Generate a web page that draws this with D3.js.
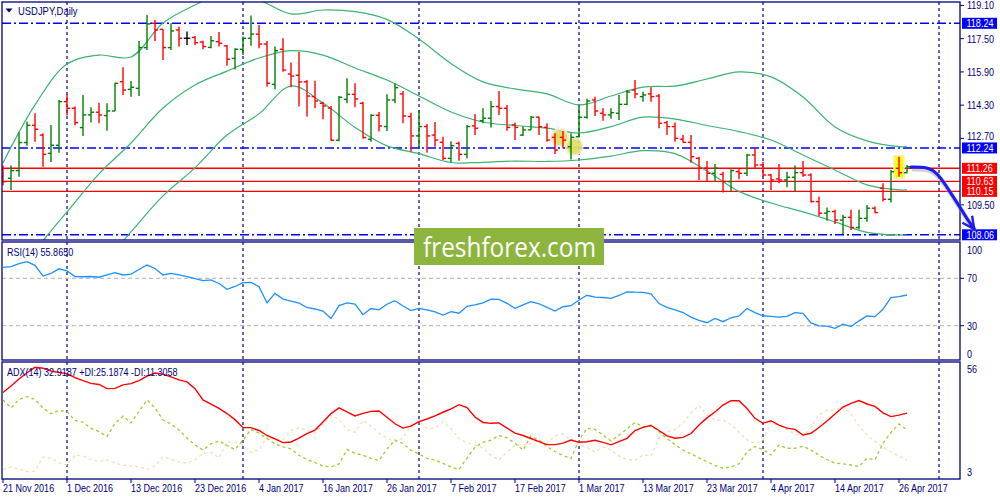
<!DOCTYPE html>
<html><head><meta charset="utf-8">
<script src="https://cdn.jsdelivr.net/npm/d3@7"></script>
<style>
body{margin:0;background:#fff;}
svg{display:block;}
text{font-family:"Liberation Sans",Arial,sans-serif;font-size:11px;}
</style></head><body>
<svg id="c" width="1000" height="500"></svg>
<script>
// ---------- DATA ----------
const tickLabels = ["21 Nov 2016","1 Dec 2016","13 Dec 2016","23 Dec 2016","4 Jan 2017","16 Jan 2017","26 Jan 2017","7 Feb 2017","17 Feb 2017","1 Mar 2017","13 Mar 2017","23 Mar 2017","4 Apr 2017","14 Apr 2017","26 Apr 2017"];
const tickIdx = [0,8,16,24,32,40,48,56,64,72,80,88,96,104,112];
const monthGridIdx = [8,30,52,72,95,117];

const open = [110.86,110.78,111.15,112.50,113.33,112.86,111.98,112.37,114.47,114.15,
113.22,113.83,113.96,113.80,114.02,115.43,115.06,115.11,117.07,118.24,
117.95,117.07,117.92,117.52,117.56,117.34,117.08,117.36,117.15,116.55,
116.99,117.52,117.72,117.24,115.30,116.99,115.80,115.74,115.42,114.71,
114.39,114.16,112.61,114.58,114.82,114.39,112.66,113.81,113.27,114.55,
114.84,113.75,112.82,113.27,112.86,112.51,111.74,112.46,111.93,113.30,
113.55,113.67,114.23,114.15,113.35,112.86,113.11,113.72,113.23,112.75,
112.75,112.30,112.78,113.72,114.55,113.91,113.83,113.91,114.34,115.03,
114.71,114.84,114.74,113.46,113.27,112.66,112.51,111.74,111.26,111.02,
110.97,110.62,111.10,111.02,111.90,111.42,110.94,110.75,110.70,110.83,
111.05,110.94,109.66,109.10,109.18,108.77,108.90,108.41,108.85,109.34,
110.30,109.77,111.26,111.05];
const high = [111.39,111.39,112.99,113.51,113.91,112.95,113.35,114.55,114.82,114.23,
114.79,114.20,114.42,114.39,115.38,116.12,115.46,117.39,118.64,118.40,
117.95,118.24,118.08,117.84,117.63,117.40,117.63,117.82,117.20,117.04,
117.60,118.61,118.16,117.39,117.12,117.52,116.35,116.87,115.51,115.48,
114.47,114.26,114.74,115.59,115.35,114.47,113.86,113.97,114.82,115.35,
114.98,113.94,114.07,113.39,113.49,112.78,112.56,112.54,113.35,113.88,
114.15,114.50,114.98,114.31,113.46,113.27,113.78,113.75,113.43,112.95,
113.06,112.95,114.23,114.61,114.71,114.15,114.15,114.79,115.03,115.51,
114.95,115.16,114.84,113.54,113.46,112.86,112.86,111.82,111.61,111.47,
111.10,111.21,111.26,111.95,112.22,111.58,110.99,111.47,111.10,111.39,
111.61,111.02,109.90,109.38,109.26,109.02,109.26,109.26,109.50,109.42,
110.54,111.18,111.82,111.42];
const low = [110.44,110.22,110.86,112.35,112.54,111.34,111.57,112.01,113.80,113.33,
112.82,113.46,113.43,113.07,114.02,114.79,114.71,114.74,116.95,117.39,
116.47,116.95,117.12,117.20,117.20,116.99,117.04,117.12,116.20,116.02,
116.71,117.16,117.04,115.19,115.06,115.91,115.16,114.23,113.75,114.15,
113.62,112.59,112.56,114.39,114.20,112.70,112.54,113.03,113.06,114.39,
113.43,112.06,112.22,112.01,112.30,111.66,111.55,111.63,111.74,112.86,
113.43,113.23,113.83,113.07,112.62,112.82,113.11,112.86,112.54,111.95,
112.22,111.69,112.75,113.65,113.78,113.55,113.65,113.59,114.29,114.63,
114.47,114.47,113.19,112.86,112.54,112.50,111.53,110.70,110.62,110.62,
110.09,110.14,110.73,110.89,111.26,110.83,110.22,110.54,110.35,110.14,
110.86,109.62,108.97,108.74,108.58,108.10,108.29,108.33,108.69,109.10,
109.66,109.62,110.86,111.02];
const close = [110.62,111.15,112.50,113.33,113.14,111.93,112.37,114.47,114.15,113.46,
113.83,113.96,113.83,114.02,115.35,115.03,115.16,117.07,118.21,117.92,
117.07,117.87,117.52,117.52,117.31,117.12,117.40,117.28,116.51,116.99,
117.52,117.72,117.24,115.35,116.92,115.99,115.70,115.42,114.74,114.50,
114.26,112.61,114.68,114.82,114.60,112.74,113.81,113.30,114.55,115.14,
113.78,112.82,113.27,112.82,112.62,111.74,112.35,111.93,113.27,113.19,
113.67,114.23,114.15,113.23,113.23,113.11,113.72,113.27,112.62,112.14,
112.62,112.75,113.72,114.50,114.02,113.83,113.94,114.34,114.93,114.84,
114.79,114.71,113.43,113.27,112.70,112.51,111.82,111.26,111.02,111.26,
110.62,111.15,111.02,111.90,111.42,110.94,110.70,110.70,110.83,111.05,
110.94,109.66,109.10,109.18,108.77,108.90,108.41,108.85,109.34,109.13,
109.77,111.10,111.05,111.34];

// Bollinger bands read every 4 bars
const bandIdx = [0,4,8,12,16,20,24,28,32,36,40,44,48,52,56,60,64,68,72,76,80,84,88,92,96,100,104,108,112,113];
const bbUpper = [111.52,114.31,116.28,116.71,116.62,118.25,119.12,119.75,119.36,118.69,118.88,118.80,118.43,117.48,116.30,115.42,115.08,114.84,114.31,114.74,115.17,115.22,115.56,115.90,115.66,114.69,113.25,112.58,112.30,112.30];
const bbMiddle = [null,107.33,109.16,110.99,112.48,114.16,115.27,115.94,116.57,116.92,116.71,116.09,115.51,114.74,113.97,113.49,113.32,113.19,112.96,113.27,113.72,113.63,113.32,113.03,112.62,111.90,111.18,110.46,110.22,110.22];
const bbLower = [null,null,null,106.42,108.20,109.93,111.28,112.86,113.88,115.22,114.40,113.23,112.34,111.97,111.54,111.55,111.61,111.59,111.66,111.85,112.11,111.97,111.13,110.15,109.59,109.16,108.68,108.18,108.05,108.05];

const rsi = [79.3,79.8,82.3,84.0,80.9,71.9,74.1,78.0,76.2,71.5,
71.3,71.5,70.9,72.8,74.7,72.8,73.6,77.4,81.2,78.3,
72.8,74.2,72.8,71.4,69.8,68.0,68.6,65.6,60.7,63.1,
66.3,66.6,62.9,49.4,57.3,52.5,50.8,49.0,45.4,44.1,
42.4,36.1,47.0,49.2,48.3,39.3,44.5,43.4,48.1,51.1,
46.6,42.7,44.6,43.3,41.6,39.0,41.8,40.5,46.4,47.5,
49.2,52.4,52.2,48.9,44.7,47.5,50.3,48.5,45.4,42.4,
46.0,46.9,51.7,55.7,54.1,53.8,53.1,55.5,58.6,58.3,
58.2,56.9,48.7,45.5,43.3,41.1,37.3,34.5,32.5,36.2,
33.4,36.7,38.2,44.5,41.1,38.4,37.9,37.3,37.8,41.1,
40.5,32.3,29.9,29.7,27.8,31.3,29.3,34.1,38.2,37.6,
43.9,53.8,54.5,55.9];

const adx = [42.4,45.4,48.6,51.5,54.0,53.6,52.3,51.6,51.1,49.3,
47.9,46.6,46.1,44.2,44.3,45.9,46.5,47.9,50.0,51.4,
50.9,49.6,48.2,47.3,44.2,39.0,37.0,35.1,32.7,29.9,
26.2,26.2,24.9,22.6,21.0,19.3,19.6,21.4,23.5,25.1,
28.8,32.7,35.3,33.5,31.6,32.8,33.7,33.9,31.0,28.0,
26.0,26.9,29.0,30.2,31.6,33.3,34.9,36.8,35.5,31.1,
28.6,28.2,28.4,26.0,23.7,22.6,21.2,19.8,18.4,18.4,
19.1,20.5,19.5,19.7,20.4,19.4,18.3,19.8,21.3,24.9,
26.3,27.2,24.9,22.4,21.3,21.7,23.5,27.4,30.7,33.4,
36.6,38.6,38.6,35.0,30.5,28.2,29.4,27.4,26.0,25.4,
22.8,23.6,26.3,29.3,32.5,35.7,37.4,38.7,37.1,36.0,
33.0,31.3,32.0,32.9];
const plusDI = [39.0,35.3,39.2,40.5,39.2,35.3,32.6,34.1,33.6,29.5,
28.7,25.9,24.4,22.1,28.2,31.5,28.4,33.7,39.0,35.3,
29.7,27.9,25.1,21.4,18.2,15.9,18.7,20.1,18.0,16.1,
20.5,25.4,23.7,21.2,18.7,17.4,16.4,13.4,11.5,10.1,
8.5,8.1,9.5,16.1,14.4,13.5,12.0,11.1,16.4,20.5,
18.9,15.8,14.1,12.0,11.3,9.7,8.1,6.9,12.2,17.3,
19.4,20.5,22.6,21.5,19.0,15.9,22.4,20.5,17.4,15.2,
13.4,12.0,20.5,25.9,25.4,22.8,20.1,22.8,25.6,28.6,
26.6,27.3,24.3,21.2,18.4,15.9,14.1,12.3,10.5,8.8,
7.5,8.1,9.5,15.0,17.5,16.1,13.6,18.2,16.7,16.7,
17.6,15.9,13.5,11.4,9.9,9.5,9.0,8.3,12.1,11.4,
19.0,24.0,27.9,25.2];
const minusDI = [7.0,8.1,7.1,5.9,6.2,12.7,12.1,10.0,9.0,13.6,
13.1,11.5,10.6,11.3,9.9,8.8,8.5,8.2,7.0,8.5,
12.7,11.6,10.4,9.9,11.3,14.4,14.8,12.2,19.7,19.4,
18.0,14.8,15.9,22.1,21.0,20.7,24.9,26.2,24.9,23.7,
28.1,31.9,30.0,25.4,24.1,29.5,27.0,23.7,21.4,19.7,
21.4,27.7,28.9,25.8,26.0,28.8,25.8,21.2,19.2,18.2,
16.8,13.6,11.3,15.0,18.2,18.2,18.9,20.4,18.9,22.4,
23.3,20.7,18.2,17.1,15.0,17.4,15.8,13.1,11.6,11.1,
13.6,13.1,21.2,24.2,25.3,28.3,33.0,36.4,32.0,29.7,
29.7,27.7,24.2,20.5,18.9,20.5,28.8,27.4,25.4,23.3,
22.0,26.6,32.0,34.3,34.3,36.0,32.5,27.0,22.8,19.8,
17.1,15.0,13.1,11.3];

const priceTicks = [119.10,117.50,115.90,114.30,112.70,109.50];
const blueLevels = [118.24,112.24,108.06];
const redLevels = [111.26,110.63,110.15];
const rsiLevels = [70,30];
const rsiTickLabels = ["100","70","30","0"];
const rsiTickVals = [100,70,30,0];
const adxTickLabels = ["56","3"];

// annotations (bar index, price)
const circleIdx = [69.6,71.4], circlePrice = [112.74,112.31];
const markIdx = 112, markHigh = 111.87, markLow = 110.78;
const arrowIdx = [113.5,115.6,116.8,118.4,119.6,120.6,121.4];
const arrowPrice = [111.32,111.32,111.04,110.12,109.40,108.77,108.34];

// ---------- LAYOUT ----------
const L=2, R=960;
const MAIN=[2,240], RSI=[242,360], ADX=[362,479];
const NAVY="#000080";
const NARROW=0.82;
const x = d3.scaleLinear().domain([0,113]).range([3,907]);
const yP = d3.scaleLinear().domain([108.06,118.24]).range([234.8,23.3]);
const yR = d3.scaleLinear().domain([0,100]).range([361.25,242.75]);
const yA = d3.scaleLinear().domain([3,56]).range([478,363]);

const svg = d3.select("#c");
svg.append("rect").attr("width",1000).attr("height",500).attr("fill","#fff");
const defs = svg.append("defs");
function mkClip(id,p){defs.append("clipPath").attr("id",id).append("rect")
  .attr("x",L).attr("y",p[0]).attr("width",R-L).attr("height",p[1]-p[0]);}
mkClip("cm",MAIN); mkClip("cr",RSI); mkClip("ca",ADX);

// narrow text helper (imitates a condensed UI font)
function txt(parent,xx,yy,s,fill,size){
  const t = parent.append("text").attr("x",xx).attr("y",yy).attr("fill",fill||NAVY).text(s);
  if(size) t.style("font-size",size);
  const w = t.node().getComputedTextLength();
  if(w>0) t.attr("textLength",w*NARROW).attr("lengthAdjust","spacingAndGlyphs");
  return t;
}

// vertical month grid
svg.append("g").selectAll("line").data(monthGridIdx).join("line")
  .attr("x1",d=>x(d)).attr("x2",d=>x(d)).attr("y1",MAIN[0]).attr("y2",ADX[1])
  .attr("stroke",NAVY).attr("stroke-width",1.2).attr("stroke-dasharray","3,3");

// ---------- MAIN PANEL ----------
const gm = svg.append("g").attr("clip-path","url(#cm)");
gm.selectAll("line.b").data(blueLevels).join("line")
  .attr("x1",L).attr("x2",R).attr("y1",d=>yP(d)).attr("y2",d=>yP(d))
  .attr("stroke","#0000ff").attr("stroke-width",1.4).attr("stroke-dasharray","9,3,2,3");
gm.selectAll("line.r").data(redLevels).join("line")
  .attr("x1",L).attr("x2",R).attr("y1",d=>yP(d)).attr("y2",d=>yP(d))
  .attr("stroke","#ff0000").attr("stroke-width",1.4);

const bandLine = d3.line().defined(d=>d[1]!=null).x(d=>x(d[0])).y(d=>yP(d[1])).curve(d3.curveCatmullRom);
[bbUpper,bbMiddle,bbLower].forEach(arr=>{
  gm.append("path").attr("d",bandLine(bandIdx.map((k,j)=>[k,arr[j]])))
    .attr("fill","none").attr("stroke","#3cb371").attr("stroke-width",1.2);
});

// yellow highlights
gm.selectAll("circle.hl").data(circleIdx).join("circle")
  .attr("cx",d=>x(d)).attr("cy",(d,j)=>yP(circlePrice[j])).attr("r",8.5)
  .attr("fill","#e2dd5e").attr("stroke","#eeeecc").attr("stroke-width",2).attr("opacity",0.9);
gm.append("rect").attr("x",x(markIdx)-5).attr("y",yP(markHigh))
  .attr("width",10).attr("height",yP(markLow)-yP(markHigh))
  .attr("fill","#ffff00").attr("stroke","#f4f4b0").attr("stroke-width",1.5);

// OHLC bars
const bars = gm.append("g");
d3.range(open.length).forEach(i=>{
  const c = close[i]>open[i] ? "#008000" : (close[i]<open[i] ? "#ff0000" : "#000000");
  const g = bars.append("g").attr("stroke",c).attr("stroke-width",1.4);
  g.append("line").attr("x1",x(i)).attr("x2",x(i)).attr("y1",yP(high[i])).attr("y2",yP(low[i]));
  g.append("line").attr("x1",x(i)-3.2).attr("x2",x(i)).attr("y1",yP(open[i])).attr("y2",yP(open[i]));
  g.append("line").attr("x1",x(i)).attr("x2",x(i)+3.2).attr("y1",yP(close[i])).attr("y2",yP(close[i]));
});

// ---------- RSI PANEL ----------
const gr = svg.append("g").attr("clip-path","url(#cr)");
gr.selectAll("line").data(rsiLevels).join("line")
  .attr("x1",L).attr("x2",R).attr("y1",d=>yR(d)).attr("y2",d=>yR(d))
  .attr("stroke","#c0c0c0").attr("stroke-width",1.2).attr("stroke-dasharray","4,3");
gr.append("path").attr("d",d3.line().x((d,i)=>x(i)).y(d=>yR(d))(rsi))
  .attr("fill","none").attr("stroke","#1e90ff").attr("stroke-width",1.3);

// ---------- ADX PANEL ----------
const ga = svg.append("g").attr("clip-path","url(#ca)");
const aLine = d3.line().x((d,i)=>x(i)).y(d=>yA(d));
ga.append("path").attr("d",aLine(minusDI)).attr("fill","none")
  .attr("stroke","#f5deb3").attr("stroke-width",1.3).attr("stroke-dasharray","3,3");
ga.append("path").attr("d",aLine(plusDI)).attr("fill","none")
  .attr("stroke","#9acd32").attr("stroke-width",1.3).attr("stroke-dasharray","3,3");
ga.append("path").attr("d",aLine(adx)).attr("fill","none")
  .attr("stroke","#ff0000").attr("stroke-width",1.4);

// ---------- FRAMES ----------
[MAIN,RSI,ADX].forEach(p=>{
  svg.append("rect").attr("x",L).attr("y",p[0]).attr("width",R-L).attr("height",p[1]-p[0])
    .attr("fill","none").attr("stroke",NAVY).attr("stroke-width",1.3);
});

// panel titles
svg.append("path").attr("d","M5.5,8.5 L12.5,8.5 L9,12.5 Z").attr("fill",NAVY);
txt(svg,18,15,"USDJPY,Daily",NAVY,"11.5px");
txt(svg,7,256,"RSI(14) 55.8650");
txt(svg,7,376,"ADX(14) 32.9187 +DI:25.1874 -DI:11.3058");

// ---------- RIGHT AXIS ----------
const ax = svg.append("g");
priceTicks.forEach(v=>{
  ax.append("line").attr("x1",R).attr("x2",R+4).attr("y1",yP(v)).attr("y2",yP(v)).attr("stroke",NAVY);
  const dy = (v===112.70) ? 1.5 : 4;   // sits just above the 112.24 box
  txt(ax,967,yP(v)+dy,v.toFixed(2));
});
const boxes = blueLevels.map(v=>({v,c:"#0000ff"})).concat(redLevels.map(v=>({v,c:"#ff0000"})));
boxes.forEach(b=>{
  ax.append("rect").attr("x",962).attr("y",yP(b.v)-5.5).attr("width",35).attr("height",11).attr("fill",b.c);
  txt(ax,966.5,yP(b.v)+4,b.v.toFixed(2),"#fff");
});
rsiTickVals.forEach((v,j)=>{
  const yy = v===100 ? yR(v)+7 : (v===0 ? yR(v)-7 : yR(v));
  if(v===70||v===30) ax.append("line").attr("x1",R).attr("x2",R+4).attr("y1",yR(v)).attr("y2",yR(v)).attr("stroke",NAVY);
  txt(ax,967,yy+4,rsiTickLabels[j]);
});
txt(ax,967,yA(56)+10,adxTickLabels[0]);
txt(ax,967,yA(3)-2,adxTickLabels[1]);

// ---------- DATE AXIS ----------
tickIdx.forEach((k,j)=>{
  svg.append("line").attr("x1",x(k)).attr("x2",x(k)).attr("y1",ADX[1]).attr("y2",ADX[1]+4).attr("stroke",NAVY);
  txt(svg,x(k),492,tickLabels[j]);
});

// ---------- ARROW ----------
defs.append("marker").attr("id","ah").attr("viewBox","0 0 10 10").attr("refX",9).attr("refY",5)
  .attr("markerUnits","userSpaceOnUse").attr("markerWidth",15).attr("markerHeight",15).attr("orient","auto")
  .append("path").attr("d","M1,1 L9,5 L1,9").attr("fill","none").attr("stroke","#1c1cf0").attr("stroke-width",1.6);
const arrowPts = arrowIdx.map((k,j)=>[x(k),yP(arrowPrice[j])]);
const aPath = d3.line().curve(d3.curveBasis)(arrowPts);
svg.append("path").attr("d",aPath).attr("transform","translate(1,2)").attr("fill","none")
  .attr("stroke","#9a9ab8").attr("stroke-width",5).attr("opacity",0.45);
svg.append("path").attr("d",aPath).attr("fill","none").attr("stroke","#1c1cf0")
  .attr("stroke-width",3).attr("stroke-linecap","round").attr("marker-end","url(#ah)");

// ---------- LOGO ----------
svg.append("rect").attr("x",414).attr("y",228).attr("width",190).attr("height",37).attr("fill","#8db53e");
svg.append("text").attr("x",423).attr("y",256.5).attr("fill","#fff")
  .style("font-family","'Open Sans','Noto Sans',sans-serif").style("font-size","28px")
  .attr("textLength",173).attr("lengthAdjust","spacingAndGlyphs").text("freshforex.com");
</script>
</body></html>
